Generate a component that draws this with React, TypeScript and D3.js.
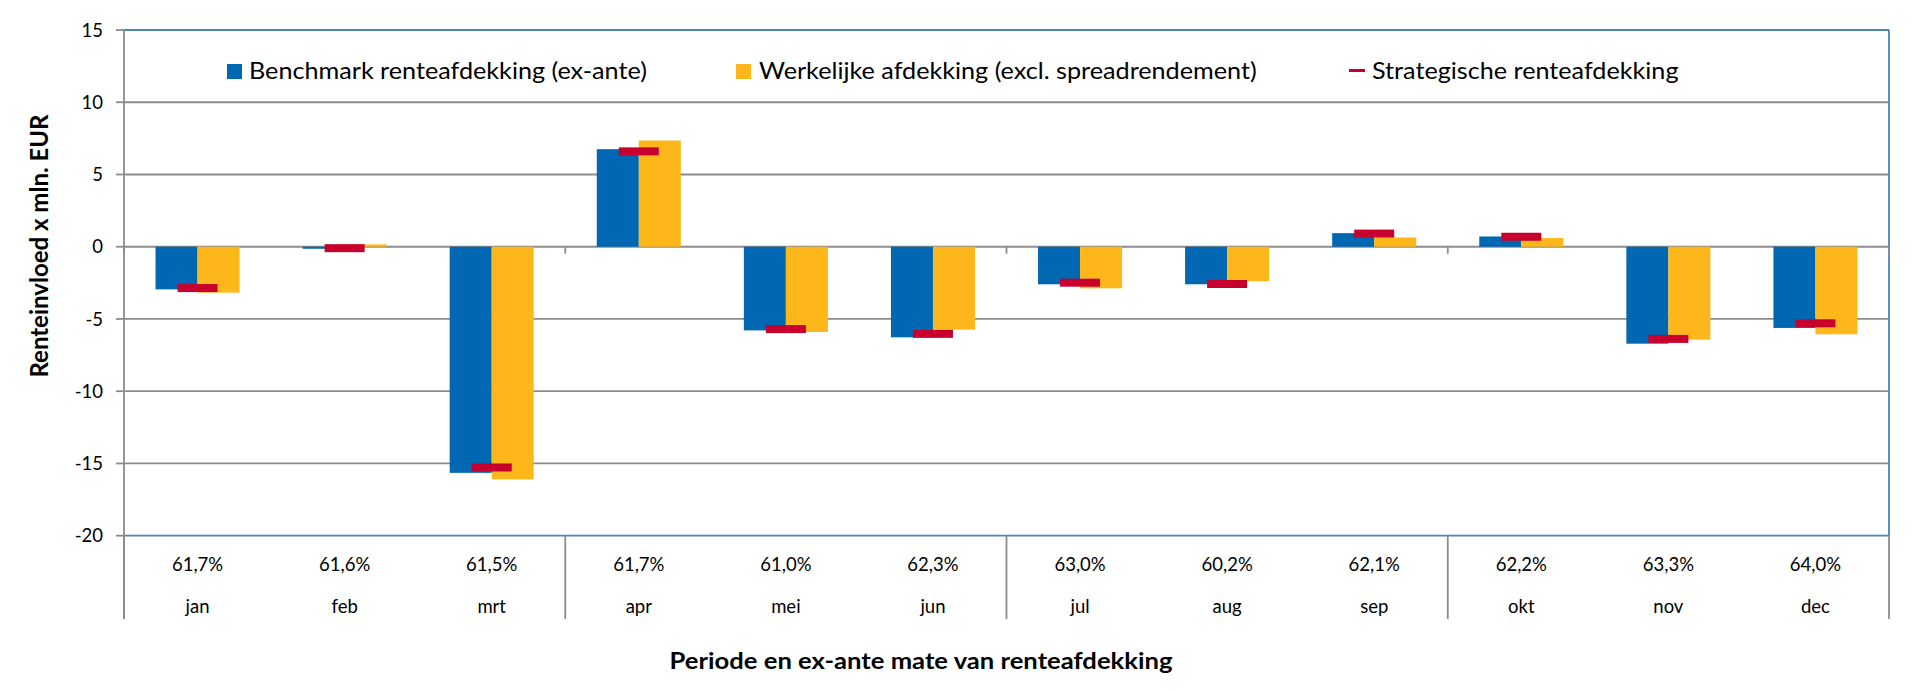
import { useMemo } from 'react';
import * as d3 from 'd3';

const months = ['jan', 'feb', 'mrt', 'apr', 'mei', 'jun', 'jul', 'aug', 'sep', 'okt', 'nov', 'dec'];
const hedgeRatio = ['61,7%', '61,6%', '61,5%', '61,7%', '61,0%', '62,3%', '63,0%', '60,2%', '62,1%', '62,2%', '63,3%', '64,0%'];
const benchmark = [-2.95, -0.14, -15.65, 6.75, -5.79, -6.27, -2.6, -2.6, 0.94, 0.71, -6.71, -5.62];
const actual = [-3.18, 0.16, -16.1, 7.35, -5.9, -5.74, -2.88, -2.38, 0.64, 0.6, -6.43, -6.06];
const strategic = [-2.86, -0.1, -15.28, 6.6, -5.7, -6.03, -2.49, -2.58, 0.91, 0.69, -6.38, -5.3];
const yTicks = [-20, -15, -10, -5, 0, 5, 10, 15];

const seriesNames = {
  benchmark: 'Benchmark renteafdekking (ex-ante)',
  actual: 'Werkelijke afdekking (excl. spreadrendement)',
  strategic: 'Strategische renteafdekking',
};

const W = 1919;
const H = 691;
const margin = { top: 30, right: 30, bottom: 155.3, left: 124 };

const BLUE = '#0067b2';
const YELLOW = '#fdb71b';
const RED = '#c8002e';
const GRID = '#8c8c8c';
const BORDER = '#4f81bd';
const FONT = 'Lato, Carlito, Calibri, sans-serif';

// text is slightly wider than Lato at the same height, so stretch it a bit
const LEGEND_SX = 1.095;
const TITLE_SX = 1.09;

export default function App() {
  const x0 = margin.left;
  const x1 = W - margin.right;
  const yTop = margin.top;
  const yBot = H - margin.bottom;
  const labelBottom = 619;

  const x = useMemo(() => d3.scaleBand<string>().domain(months).range([x0, x1]).padding(0), []);
  const xSub = useMemo(
    () => d3.scaleBand<string>().domain(['benchmark', 'actual']).range([0, x.bandwidth()]).paddingInner(0).paddingOuter(0.75),
    [x]
  );
  const y = useMemo(() => d3.scaleLinear().domain([-20, 15]).range([yBot, yTop]), []);

  const quarterEdges = d3.range(0, months.length + 1, 3).map(i => x0 + i * x.step());
  const barW = xSub.bandwidth();
  const markW = 40;
  const markH = 8;

  const bar = (v: number) => ({ y: Math.min(y(v), y(0)), h: Math.abs(y(v) - y(0)) });

  const legendText = (tx: number, label: string) => (
    <text transform={`translate(${tx},79) scale(${LEGEND_SX},1)`} fontSize={23} fill="#000">
      {label}
    </text>
  );

  return (
    <svg width={W} height={H} style={{ position: 'absolute', left: 0, top: 0, background: '#fff' }} fontFamily={FONT}>
      {/* grid */}
      {yTicks.filter(t => t > -20 && t < 15).map(t => (
        <line key={t} x1={x0} x2={x1} y1={y(t)} y2={y(t)} stroke={GRID} strokeWidth={1.8} />
      ))}

      {/* bars */}
      {months.map((m, i) => {
        const b = bar(benchmark[i]);
        const a = bar(actual[i]);
        return (
          <g key={m}>
            <rect x={x(m)! + xSub('benchmark')!} y={b.y} width={barW} height={b.h} fill={BLUE} />
            <rect x={x(m)! + xSub('actual')!} y={a.y} width={barW} height={a.h} fill={YELLOW} />
          </g>
        );
      })}

      {/* strategic markers */}
      {months.map((m, i) => (
        <rect key={m} x={x(m)! + x.bandwidth() / 2 - markW / 2} y={y(strategic[i]) - markH / 2} width={markW} height={markH} fill={RED} />
      ))}

      {/* plot border */}
      <line x1={x0} x2={x1} y1={yTop} y2={yTop} stroke={BORDER} strokeWidth={1.8} />
      <line x1={x0} x2={x1} y1={yBot} y2={yBot} stroke={BORDER} strokeWidth={1.8} />
      <line x1={x1} x2={x1} y1={yTop} y2={yBot} stroke={BORDER} strokeWidth={1.8} />

      {/* category separators and zero-line ticks */}
      {quarterEdges.map((e, i) => (
        <g key={i}>
          <line x1={e} x2={e} y1={yBot} y2={labelBottom} stroke={GRID} strokeWidth={1.8} />
          <line x1={e} x2={e} y1={y(0)} y2={y(0) + 7} stroke={GRID} strokeWidth={1.8} />
        </g>
      ))}

      {/* y axis */}
      <line x1={x0} x2={x0} y1={yTop} y2={labelBottom} stroke={GRID} strokeWidth={1.8} />
      {yTicks.map(t => (
        <g key={t}>
          <line x1={x0 - 8} x2={x0} y1={y(t)} y2={y(t)} stroke={GRID} strokeWidth={1.8} />
          <text x={103} y={y(t)} dy="0.36em" textAnchor="end" fontSize={18.5} fill="#000">
            {t}
          </text>
        </g>
      ))}

      {/* category labels */}
      {months.map((m, i) => (
        <g key={m}>
          <text x={x(m)! + x.bandwidth() / 2} y={570.5} textAnchor="middle" fontSize={18.5} fill="#000">
            {hedgeRatio[i]}
          </text>
          <text x={x(m)! + x.bandwidth() / 2} y={613.3} textAnchor="middle" fontSize={18.5} fill="#000">
            {m}
          </text>
        </g>
      ))}

      {/* axis titles */}
      <text transform="translate(48,246) rotate(-90)" textAnchor="middle" fontSize={24} fontWeight="bold" fill="#000">
        Renteinvloed x mln. EUR
      </text>
      <text transform={`translate(921,669) scale(${TITLE_SX},1)`} textAnchor="middle" fontSize={23.5} fontWeight="bold" fill="#000">
        Periode en ex-ante mate van renteafdekking
      </text>

      {/* legend */}
      <rect x={227} y={64} width={15} height={15} fill={BLUE} />
      {legendText(249, seriesNames.benchmark)}
      <rect x={736} y={64} width={15} height={15} fill={YELLOW} />
      {legendText(759, seriesNames.actual)}
      <rect x={1349} y={69} width={16} height={3} fill={RED} />
      {legendText(1372, seriesNames.strategic)}
    </svg>
  );
}
